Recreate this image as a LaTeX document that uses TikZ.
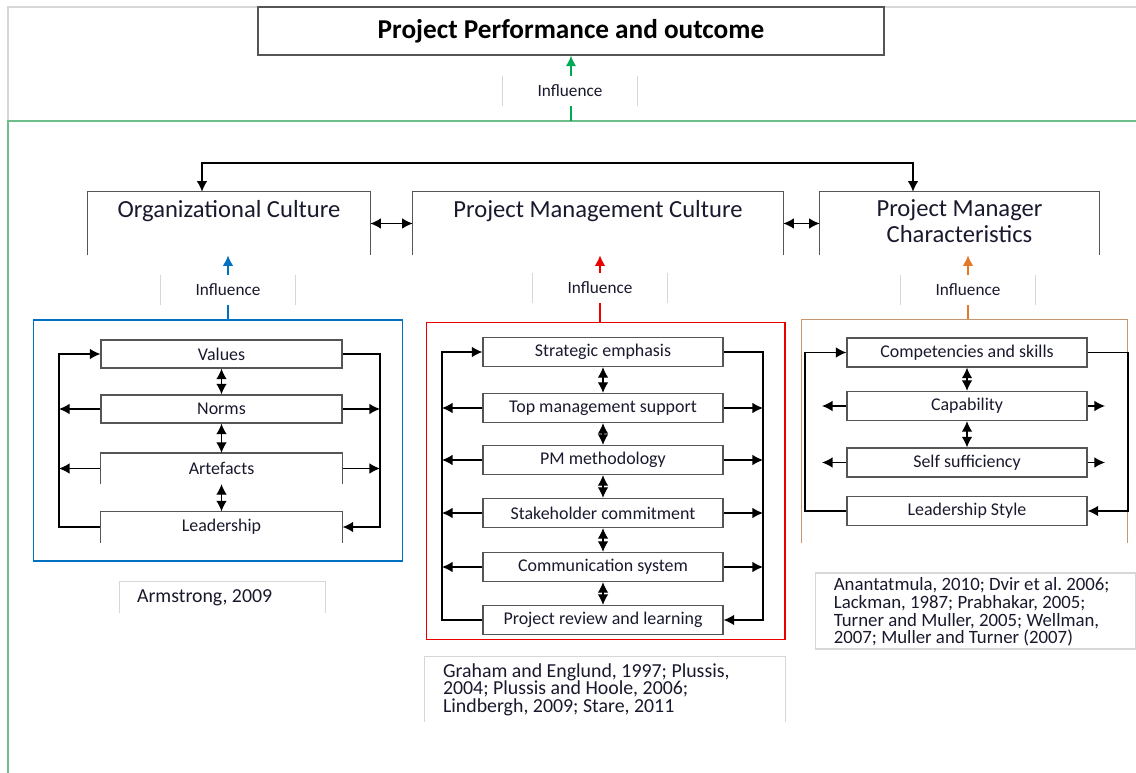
\documentclass[tikz,border=0pt]{standalone}
\usepackage{fontspec}
\setmainfont{Carlito}
\usetikzlibrary{arrows.meta}

\definecolor{perfgreen}{RGB}{0,170,85}
\definecolor{framegreen}{RGB}{110,190,140}
\definecolor{orgblue}{RGB}{0,112,192}
\definecolor{pmred}{RGB}{235,0,0}
\definecolor{pmorange}{RGB}{228,120,40}
\definecolor{tanline}{RGB}{200,150,110}
\definecolor{faintgray}{RGB}{215,215,215}
\definecolor{boxgray}{RGB}{85,85,85}
\definecolor{textdark}{RGB}{25,25,45}

\tikzset{
  link/.style={draw=black, line width=0.7pt},
  arr/.style={-{Latex[length=6pt,width=6pt]}},
  darr/.style={{Latex[length=6pt,width=6pt]}-{Latex[length=6pt,width=6pt]}},
  faint/.style={draw=faintgray, line width=0.6pt},
  titlebox/.style={draw=boxgray, line width=0.8pt, minimum width=12.52cm, minimum height=0.96cm, inner sep=0pt, font=\bfseries\fontsize{15.5}{17}\selectfont, text=black},
  inflbox/.style={fill=white, minimum width=2.7cm, minimum height=0.6cm, inner sep=0pt, font=\fontsize{9.8}{11}\selectfont, text=textdark},
  culturebox/.style={minimum height=1.26cm, inner sep=0pt},
  headlabel/.style={anchor=north, inner sep=0pt, yshift=-0.16cm, font=\fontsize{14}{14.3}\selectfont, text=textdark},
  framebox/.style={line width=0.6pt, inner sep=0pt},
  itembox/.style={draw=boxgray, line width=0.7pt, minimum width=4.8cm, minimum height=0.56cm, inner sep=0pt, font=\fontsize{10.2}{12}\selectfont, text=textdark},
  itemopen/.style={itembox, draw=none, minimum height=0.6cm},
  refbox/.style={inner sep=0pt},
  reftext/.style={anchor=west, inner sep=0pt, align=left, font=\frenchspacing\fontsize{11.3}{10}\selectfont, text=textdark}
}

% box drawn on three sides, open at the bottom
\newcommand{\openbox}[2][]{\draw[#1] (#2.south west) -- (#2.north west) -- (#2.north east) -- (#2.south east);}
% only the two side edges
\newcommand{\sides}[1]{\draw[faint] (#1.north west) -- (#1.south west) (#1.north east) -- (#1.south east);}

\begin{document}
\begin{tikzpicture}[x=0.02cm, y=-0.02cm]
\useasboundingbox (0,0) rectangle (1136,773);

% outer frames
\draw[faint] (8,121) -- (8,7) -- (1136,7);
\draw[draw=framegreen, line width=1pt] (1136,121) -- (8,121) -- (8,773);

% outcome
\node[titlebox] (perf) at (571,31) {Project Performance and outcome};
\node[inflbox] (inflP) at (570,91) {Influence};
\sides{inflP}
\coordinate (gtop) at (571,121);
\draw[draw=perfgreen, line width=0.9pt] (gtop) -- (gtop |- inflP.south);
\draw[draw=perfgreen, line width=0.9pt, arr] (gtop |- inflP.north) -- (gtop |- perf.south);

% the three cultures
\node[culturebox, minimum width=5.64cm, label={[headlabel]north:Organizational Culture}] (oc) at (229,223.5) {};
\node[culturebox, minimum width=7.4cm, label={[headlabel]north:Project Management Culture}] (pmc) at (598,223.5) {};
\node[culturebox, minimum width=5.58cm, label={[headlabel,align=center]north:Project Manager\\Characteristics}] (pmch) at (959.5,223.5) {};
\openbox[draw=boxgray, line width=0.8pt]{oc}
\openbox[draw=boxgray, line width=0.8pt]{pmc}
\openbox[draw=boxgray, line width=0.8pt]{pmch}
\draw[link, darr] (oc.east) -- (pmc.west);
\draw[link, darr] (pmc.east) -- (pmch.west);
\coordinate (loopL) at (202,163);
\coordinate (loopR) at (913,163);
\draw[link, darr] (loopL |- oc.north) -- (loopL) -- (loopR) -- (loopR |- pmch.north);

% influence boxes
\node[inflbox] (inflO) at (228,290) {Influence};
\node[inflbox] (inflM) at (600,288) {Influence};
\node[inflbox] (inflC) at (968,290) {Influence};
\sides{inflO}
\sides{inflM}
\sides{inflC}

% frames round the factors
\node[framebox, draw=orgblue, minimum width=7.4cm, minimum height=4.82cm] (ofr) at (218,440.5) {};
\node[framebox, draw=pmred, minimum width=7.18cm, minimum height=6.36cm] (mfr) at (605.5,481) {};
\node[framebox, minimum width=6.5cm, minimum height=4.44cm] (cfr) at (964.5,431) {};
\openbox[draw=tanline, line width=0.6pt]{cfr}

\draw[draw=orgblue, line width=0.9pt] (inflO.south) -- (inflO.south |- ofr.north);
\draw[draw=orgblue, line width=0.9pt, arr] (inflO.north) -- (inflO.north |- oc.south);
\draw[draw=pmred, line width=0.9pt] (inflM.south) -- (inflM.south |- mfr.north);
\draw[draw=pmred, line width=0.9pt, arr] (inflM.north) -- (inflM.north |- pmc.south);
\draw[draw=pmorange, line width=0.9pt] (inflC.south) -- (inflC.south |- cfr.north);
\draw[draw=pmorange, line width=0.9pt, arr] (inflC.north) -- (inflC.north |- pmch.south);

% organizational culture
\node[itembox, minimum width=4.82cm] (val) at (221.5,354) {Values};
\node[itembox, minimum width=4.82cm] (nor) at (221.5,409) {Norms};
\node[itemopen, minimum width=4.82cm] (art) at (221.5,468.5) {Artefacts};
\node[itemopen, minimum width=4.82cm] (lea) at (221.5,527) {Leadership};
\openbox[draw=boxgray, line width=0.7pt]{art}
\openbox[draw=boxgray, line width=0.7pt]{lea}
\draw[link, darr] (val.south) -- (nor.north);
\draw[link, darr] (nor.south) -- (art.north);
\draw[link, darr] (art.south) -- (lea.north);
\coordinate (oL) at (59,0);
\coordinate (oR) at (380,0);
\draw[link, arr] (lea.west) -- (lea.west -| oL) -- (val.west -| oL) -- (val.west);
\draw[link, arr] (nor.west) -- (nor.west -| oL);
\draw[link, arr] (art.west) -- (art.west -| oL);
\draw[link, arr] (val.east) -- (val.east -| oR) -- (lea.east -| oR) -- (lea.east);
\draw[link, arr] (nor.east) -- (nor.east -| oR);
\draw[link, arr] (art.east) -- (art.east -| oR);

% project management culture
\node[itembox, minimum height=0.58cm] (se) at (603,352) {Strategic emphasis};
\node[itembox, minimum height=0.58cm] (tm) at (603,408) {Top management support};
\node[itembox, minimum height=0.58cm] (pmm) at (603,460) {PM methodology};
\node[itembox, minimum height=0.58cm] (sc) at (603,513) {Stakeholder commitment};
\node[itembox, minimum height=0.58cm] (cs) at (603,567) {Communication system};
\node[itembox, minimum height=0.58cm] (prl) at (603,620) {Project review and learning};
\draw[link, darr] (se.south) -- (tm.north);
\draw[link, darr] (tm.south) -- (pmm.north);
\draw[link, darr] (pmm.south) -- (sc.north);
\draw[link, darr] (sc.south) -- (cs.north);
\draw[link, darr] (cs.south) -- (prl.north);
\coordinate (mL) at (442,0);
\coordinate (mR) at (763,0);
\draw[link, arr] (prl.west) -- (prl.west -| mL) -- (se.west -| mL) -- (se.west);
\draw[link, arr] (tm.west) -- (tm.west -| mL);
\draw[link, arr] (pmm.west) -- (pmm.west -| mL);
\draw[link, arr] (sc.west) -- (sc.west -| mL);
\draw[link, arr] (cs.west) -- (cs.west -| mL);
\draw[link, arr] (se.east) -- (se.east -| mR) -- (prl.east -| mR) -- (prl.east);
\draw[link, arr] (tm.east) -- (tm.east -| mR);
\draw[link, arr] (pmm.east) -- (pmm.east -| mR);
\draw[link, arr] (sc.east) -- (sc.east -| mR);
\draw[link, arr] (cs.east) -- (cs.east -| mR);

% project manager characteristics
\node[itembox, minimum height=0.58cm] (cas) at (967,352.5) {Competencies and skills};
\node[itembox, minimum height=0.58cm] (cap) at (967,406) {Capability};
\node[itembox, minimum height=0.58cm] (ss) at (967,462.5) {Self sufficiency};
\node[itembox, minimum height=0.58cm] (ls) at (967,511) {Leadership Style};
\draw[link, darr] (cas.south) -- (cap.north);
\draw[link, darr] (cap.south) -- (ss.north);
\coordinate (cL) at (805,0);
\coordinate (cR) at (1128,0);
\coordinate (cLs) at (822,0);
\coordinate (cRs) at (1105,0);
\draw[link, arr] (ls.west) -- (ls.west -| cL) -- (cas.west -| cL) -- (cas.west);
\draw[link, arr] (cap.west) -- (cap.west -| cLs);
\draw[link, arr] (ss.west) -- (ss.west -| cLs);
\draw[link, arr] (cas.east) -- (cas.east -| cR) -- (ls.east -| cR) -- (ls.east);
\draw[link, arr] (cap.east) -- (cap.east -| cRs);
\draw[link, arr] (ss.east) -- (ss.east -| cRs);

% sources
\node[refbox, minimum width=4.1cm, minimum height=0.62cm] (refO) at (222.5,597.5) {};
\node[refbox, minimum width=7.2cm, minimum height=1.3cm] (refM) at (605,689.5) {};
\node[refbox, minimum width=6.42cm, minimum height=1.52cm, draw=faintgray, line width=0.6pt] (refC) at (975.5,611) {};
\openbox[faint]{refO}
\openbox[faint]{refM}
\node[reftext] (refOt) at ([xshift=0.34cm]refO.west) {Armstrong, 2009};
\node[reftext] (refMt) at ([xshift=0.36cm]refM.west) {Graham and Englund, 1997; Plussis,\\2004; Plussis and Hoole, 2006;\\Lindbergh, 2009; Stare, 2011};
\node[reftext, font=\frenchspacing\fontsize{10.7}{10}\selectfont] (refCt) at ([xshift=0.38cm,yshift=-0.02cm]refC.west) {Anantatmula, 2010; Dvir et al. 2006;\\Lackman, 1987; Prabhakar, 2005;\\Turner and Muller, 2005; Wellman,\\2007; Muller and Turner (2007)};
\end{tikzpicture}
\end{document}
